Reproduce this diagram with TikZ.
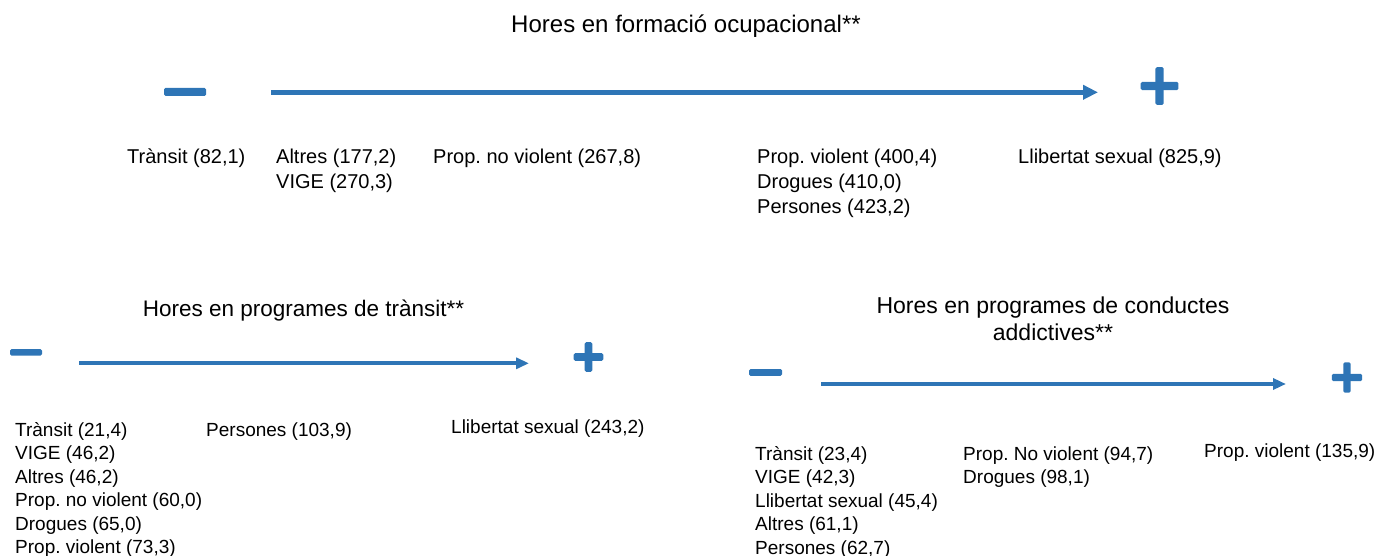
\documentclass[tikz,border=0pt]{standalone}
\usepackage{fontspec}
\setmainfont{Liberation Sans}
\usetikzlibrary{arrows.meta}
\definecolor{axisblue}{RGB}{46,117,182}
\newcommand{\rowsL}[1]{\begin{tabular}[t]{@{}l@{}}#1\end{tabular}}
\newcommand{\rowsC}[1]{\begin{tabular}[t]{@{}c@{}}#1\end{tabular}}
% plus sign: centre x, centre y, half length, half thickness
\newcommand{\crossmark}[4]{%
  \fill[signfill] ({#1-#4},{#2-#3}) rectangle ({#1+#4},{#2+#3});
  \fill[signfill] ({#1-#3},{#2-#4}) rectangle ({#1+#3},{#2+#4});}
\frenchspacing
\begin{document}
\frenchspacing
\begin{tikzpicture}[x=1pt,y=-1pt,
  lbl/.style={inner sep=0pt, anchor=base west, text=black},
  lblA/.style={lbl, font=\fontsize{20}{25}\selectfont},
  lblB/.style={lbl, font=\fontsize{19}{23.5}\selectfont},
  ttl/.style={inner sep=0pt, anchor=base, text=black},
  axisA/.style={draw=axisblue, line width=5pt, -{Triangle[length=15pt,width=14pt]}},
  axisB/.style={draw=axisblue, line width=4pt, -{Triangle[length=13pt,width=11pt]}},
  signfill/.style={fill=axisblue, rounded corners=1.5pt}
]
\useasboundingbox (0,0) rectangle (1382,556);

% ---------- Section 1 ----------
\node[ttl, font=\fontsize{24}{29}\selectfont] (t1) at (686,33) {Hores en formació ocupacional**};
\fill[signfill] (164,88) rectangle (206,96);
\coordinate (a1s) at (271,92.3);
\coordinate (a1e) at (1098,92.3);
\draw[axisA] (a1s) -- (a1e);
\crossmark{1159.5}{86}{18.8}{4.2}

\node[lblA] (s1a) at (127,164) {Trànsit (82,1)};
\node[lblA] (s1b) at (276,164) {\rowsL{Altres (177,2)\\VIGE (270,3)}};
\node[lblA] (s1c) at (433,164) {Prop. no violent (267,8)};
\node[lblA] (s1d) at (757,164) {\rowsL{Prop. violent (400,4)\\Drogues (410,0)\\Persones (423,2)}};
\node[lblA] (s1e) at (1018,164) {Llibertat sexual (825,9)};

% ---------- Section 2 ----------
\node[ttl, font=\fontsize{22.5}{27}\selectfont] (t2) at (303.5,316.5) {Hores en programes de trànsit**};
\fill[signfill] (10,349) rectangle (42,355.5);
\coordinate (a2s) at (79,363.3);
\coordinate (a2e) at (529,363.3);
\draw[axisB] (a2s) -- (a2e);
\crossmark{588.5}{357}{14.8}{3.8}

\node[lblB] (s2a) at (15,436) {\rowsL{Trànsit (21,4)\\VIGE (46,2)\\Altres (46,2)\\Prop. no violent (60,0)\\Drogues (65,0)\\Prop. violent (73,3)}};
\node[lblB] (s2b) at (206,436) {Persones (103,9)};
\node[lblB] (s2c) at (451,433.5) {Llibertat sexual (243,2)};

% ---------- Section 3 ----------
\node[ttl, font=\fontsize{23}{27}\selectfont] (t3) at (1053,313) {\rowsC{Hores en programes de conductes\\addictives**}};
\fill[signfill] (749,369) rectangle (782,375.8);
\coordinate (a3s) at (821,384);
\coordinate (a3e) at (1286,384);
\draw[axisB] (a3s) -- (a3e);
\crossmark{1347}{377.5}{15.2}{3.6}

\node[lblB] (s3a) at (755,460) {\rowsL{Trànsit (23,4)\\VIGE (42,3)\\Llibertat sexual (45,4)\\Altres (61,1)\\Persones (62,7)}};
\node[lblB] (s3b) at (963,460) {\rowsL{Prop. No violent (94,7)\\Drogues (98,1)}};
\node[lblB] (s3c) at (1204,457) {Prop. violent (135,9)};
\end{tikzpicture}
\end{document}
